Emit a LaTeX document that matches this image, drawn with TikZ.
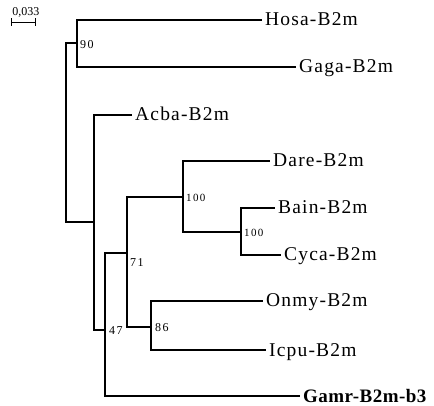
\documentclass[tikz,border=0pt]{standalone}
\usepackage{fontspec}
\setmainfont{Liberation Serif}
\newfontfamily\leaffont[LetterSpace=6]{Liberation Serif}
\newfontfamily\boldleaffont[LetterSpace=2.5]{Liberation Serif}
\newfontfamily\numfont[LetterSpace=12]{Liberation Serif}
\begin{document}
\begin{tikzpicture}[x=1pt,y=-1pt,
  edge/.style={line width=1.1pt},
  leaf/.style={anchor=west,inner xsep=3pt,inner ysep=0pt,text height=12pt,text depth=0pt,font=\leaffont\fontsize{19.5}{20}\selectfont},
  boot/.style={anchor=west,inner sep=0pt,font=\numfont\fontsize{12}{13}\selectfont}]
\useasboundingbox (0,0) rectangle (434,406);
% leaves
\node[leaf] (hosa) at (262,20) {Hosa-B2m};
\node[leaf] (gaga) at (296,67) {Gaga-B2m};
\node[leaf] (acba) at (132,115) {Acba-B2m};
\node[leaf] (dare) at (270,161) {Dare-B2m};
\node[leaf] (bain) at (275,208) {Bain-B2m};
\node[leaf] (cyca) at (281,255) {Cyca-B2m};
\node[leaf] (onmy) at (263,301) {Onmy-B2m};
\node[leaf] (icpu) at (266,350) {Icpu-B2m};
\node[leaf,font=\boldleaffont\bfseries\fontsize{19}{20}\selectfont] (gamr) at (300,396) {Gamr-B2m-b3};
% internal nodes
\coordinate (root) at (66,130);
\coordinate (n90) at (77,43);
\coordinate (nA) at (94,222);
\coordinate (n47) at (105,330);
\coordinate (n71) at (127,253);
\coordinate (n100a) at (183,197);
\coordinate (n100b) at (241,232);
\coordinate (n86) at (151,327);
% edges
\draw[edge] (root) |- (n90);
\draw[edge] (root) |- (nA);
\draw[edge] (n90) |- (hosa.west);
\draw[edge] (n90) |- (gaga.west);
\draw[edge] (nA) |- (acba.west);
\draw[edge] (nA) |- (n47);
\draw[edge] (n47) |- (n71);
\draw[edge] (n47) |- (gamr.west);
\draw[edge] (n71) |- (n100a);
\draw[edge] (n71) |- (n86);
\draw[edge] (n100a) |- (dare.west);
\draw[edge] (n100a) |- (n100b);
\draw[edge] (n100b) |- (bain.west);
\draw[edge] (n100b) |- (cyca.west);
\draw[edge] (n86) |- (onmy.west);
\draw[edge] (n86) |- (icpu.west);
% bootstrap values
\node[boot] (b90) at (80,45) {90};
\node[boot] (b47) at (109,331) {47};
\node[boot] (b71) at (130,263) {71};
\node[boot,font=\numfont\fontsize{11}{12}\selectfont] (b100a) at (186,198) {100};
\node[boot,font=\numfont\fontsize{11}{12}\selectfont] (b100b) at (244,233) {100};
\node[boot] (b86) at (155,328) {86};
% scale bar
\coordinate (sbl) at (11,22);
\coordinate (sbr) at (35,22);
\draw[line width=0.9pt] (sbl) -- (sbr);
\draw[line width=0.9pt] ([yshift=-4pt]sbl) -- ([yshift=4pt]sbl);
\draw[line width=0.9pt] ([yshift=-4pt]sbr) -- ([yshift=4pt]sbr);
\node[inner sep=0pt,font=\fontsize{12}{13}\selectfont] (sblab) at (26,12) {0,033};
\end{tikzpicture}
\end{document}
